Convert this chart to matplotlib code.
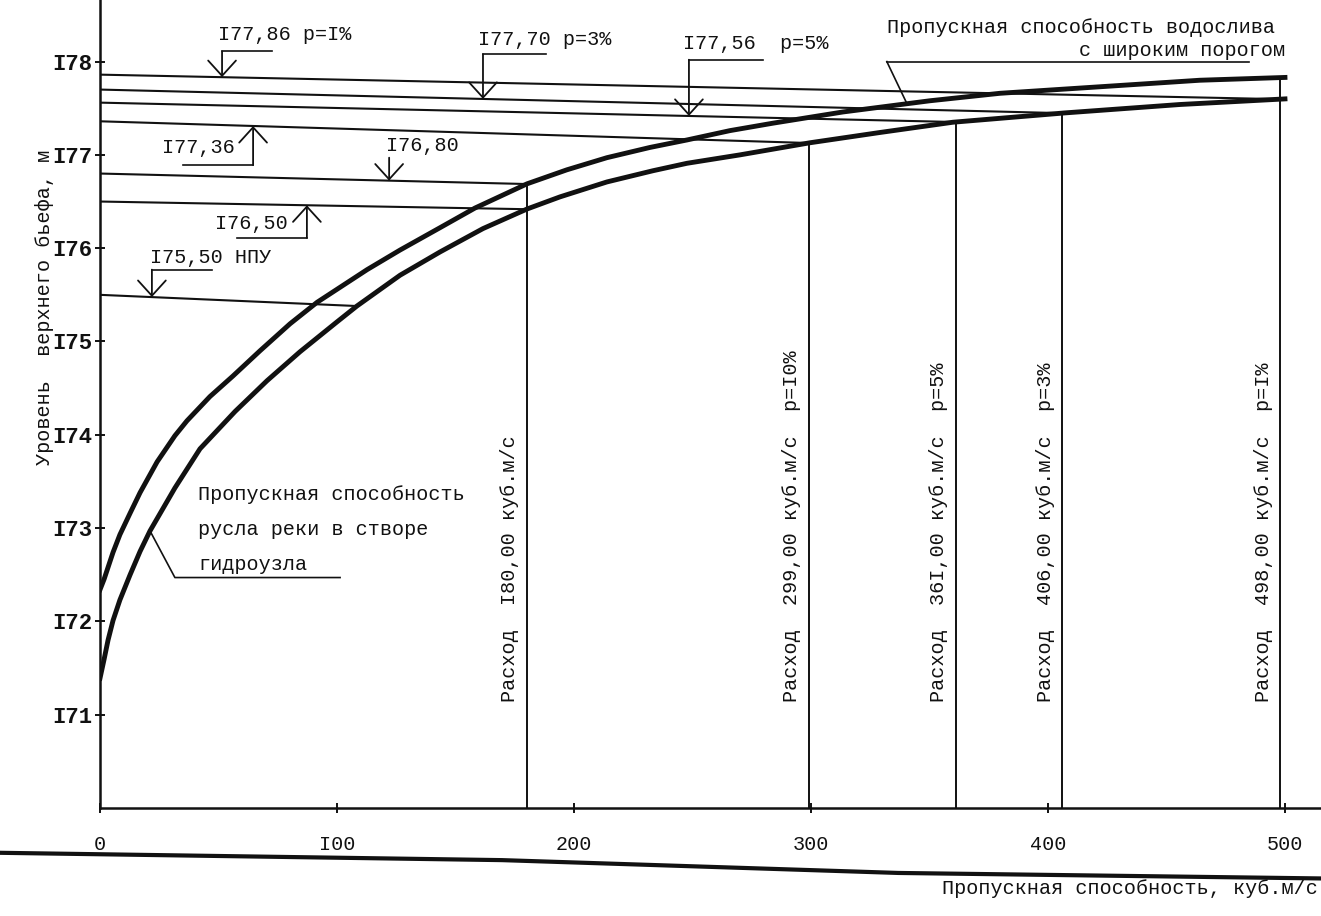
import numpy as np
import matplotlib.pyplot as plt
from matplotlib.lines import Line2D


_STYLE = {
    "font.family":        ["Liberation Mono", "DejaVu Sans Mono"],
    "font.size":          14.5,
    "axes.linewidth":     1.8,
    "xtick.major.width":  1.4,
    "ytick.major.width":  1.4,
    "xtick.major.size":   7,
    "ytick.major.size":   7,
    "xtick.direction":    "inout",
    "ytick.direction":    "inout",
    "axes.spines.top":    False,
    "axes.spines.right":  False,
    "figure.facecolor":   "white",
    "axes.facecolor":     "white",
}

INK = "#111111"

# ----------------------------------------------------------------------
# Values
# ----------------------------------------------------------------------
# rating curve of the broad-crested weir (upper thick line)
weir_q = [0, 1.7, 3.4, 5.5, 8.4, 12.7, 16.9, 24.1, 31.6, 36.7, 46.4, 56.1, 67.5,
          80.2, 91.6, 112.7, 126.6, 143.5, 158.2, 180.2, 197.0, 213.9, 232.1,
          247.7, 265.8, 284.0, 313.5, 350.2, 379.7, 421.9, 464.1, 500]
weir_h = [172.34, 172.45, 172.58, 172.74, 172.93, 173.16, 173.38, 173.71, 173.99,
          174.15, 174.41, 174.63, 174.90, 175.19, 175.42, 175.77, 175.98, 176.22,
          176.43, 176.69, 176.84, 176.97, 177.08, 177.16, 177.26, 177.34, 177.46,
          177.58, 177.66, 177.73, 177.80, 177.83]

# rating curve of the river channel at the dam site (lower thick line)
river_q = [0, 1.7, 3.4, 5.5, 8.4, 12.7, 16.9, 21.1, 31.6, 42.2, 57.0, 70.5, 84.4,
           100.0, 108.4, 126.6, 143.5, 161.6, 180.2, 194.1, 213.9, 233.3, 247.7,
           270.0, 299.6, 329.1, 359.9, 407.2, 455.7, 500]
river_h = [171.39, 171.59, 171.80, 172.01, 172.23, 172.50, 172.75, 172.97, 173.43,
           173.85, 174.25, 174.58, 174.89, 175.21, 175.38, 175.71, 175.96, 176.21,
           176.42, 176.55, 176.71, 176.83, 176.91, 177.00, 177.13, 177.24, 177.35,
           177.45, 177.54, 177.60]

# design discharges (vertical lines)
flow_q     = [180, 299, 361, 406, 498]
flow_text  = ["I80,00", "299,00", "36I,00", "406,00", "498,00"]
flow_prob  = ["", "p=I0%", "p=5%", "p=3%", "p=I%"]
flow_curve = ["weir", "river", "river", "river", "weir"]

# headwater levels (horizontal lines)
level_h     = [177.86, 177.70, 177.56, 177.36, 176.80, 176.50, 175.50]
level_text  = ["I77,86 p=I%", "I77,70 p=3%", "I77,56  p=5%", "I77,36",
               "I76,80", "I76,50", "I75,50 НПУ"]
level_end_q = [498, 406, 361, 299, 180, 180, 108.4]
level_curve = ["river", "river", "river", "river", "weir", "river", "river"]

y_ticks       = [171, 172, 173, 174, 175, 176, 177, 178]
y_tick_labels = ["I71", "I72", "I73", "I74", "I75", "I76", "I77", "I78"]
x_ticks       = [0, 100, 200, 300, 400, 500]
x_tick_labels = ["0", "I00", "200", "300", "400", "500"]

curves = {"weir": (weir_q, weir_h), "river": (river_q, river_h)}


def on_curve(name, q):
    cq, ch = curves[name]
    return float(np.interp(q, cq, ch))


with plt.rc_context(_STYLE):
    fig = plt.figure(figsize=(13.21, 9.16), dpi=100)
    ax = fig.add_axes([100 / 1321, 108 / 916, 1221 / 1321, 808 / 916])
    ax.set_xlim(0, 515.2)
    ax.set_ylim(170, 178.66)

    # thick rating curves
    ax.plot(weir_q, weir_h, color=INK, lw=3.5, solid_joinstyle="round")
    ax.plot(river_q, river_h, color=INK, lw=3.5, solid_joinstyle="round")

    # ------------------------------------------------------------------
    # discharge verticals + rotated captions
    # ------------------------------------------------------------------
    for q, txt, prob, cname in zip(flow_q, flow_text, flow_prob, flow_curve):
        ax.plot([q, q], [170, on_curve(cname, q)], color=INK, lw=1.4)
        label = f"Расход  {txt} куб.м/с"
        if prob:
            label += f"  {prob}"
        ax.annotate(label, xy=(q, 171.14), xytext=(-12, 0),
                    textcoords="offset points", rotation=90,
                    ha="center", va="bottom", color=INK)

    # ------------------------------------------------------------------
    # level lines with arrow leaders
    # ------------------------------------------------------------------
    arrow_q   = [51.5, 161.6, 248.5, 64.6, 122, 87.3, 21.9]
    leader_h  = [178.11, 178.08, 178.02, 176.89, 176.97, 176.11, 175.77]
    under_q   = [72.6, 188.2, 279.7, 35.0, None, 57.8, 47.3]
    text_pos  = [(49.8, 178.29), (159.5, 178.24), (246, 178.19), (26.2, 177.08),
                 (120.7, 177.10), (48.5, 176.26), (21.1, 175.90)]

    for i, lv in enumerate(level_h):
        q_end = level_end_q[i]
        h_end = on_curve(level_curve[i], q_end)
        ax.plot([0, q_end], [lv, h_end], color=INK, lw=1.5)

        qa = arrow_q[i]
        tip = lv + (h_end - lv) * qa / q_end
        ax.annotate("", xy=(qa, tip), xytext=(qa, leader_h[i]),
                    arrowprops=dict(arrowstyle="->,head_length=0.55,head_width=0.5",
                                    color=INK, lw=1.3, shrinkA=0, shrinkB=0,
                                    mutation_scale=20))
        if under_q[i] is not None:
            ax.plot([qa, under_q[i]], [leader_h[i], leader_h[i]], color=INK, lw=1.2)
        tx, ty = text_pos[i]
        ax.text(tx, ty, level_text[i], ha="left", va="center", color=INK)

    # ------------------------------------------------------------------
    # curve captions
    # ------------------------------------------------------------------
    ax.text(332, 178.37, "Пропускная способность водослива",
            ha="left", va="center", color=INK)
    ax.text(500, 178.12, "с широким порогом", ha="right", va="center", color=INK)
    ax.plot([332, 485], [178.0, 178.0], color=INK, lw=1.2)
    ax.plot([332, 340.5], [178.0, on_curve("weir", 340.5)], color=INK, lw=1.2)

    river_caption = ["Пропускная способность", "русла реки в створе", "гидроузла"]
    for line, yy in zip(river_caption, [173.36, 172.98, 172.61]):
        ax.text(41.4, yy, line, ha="left", va="center", color=INK)
    ax.plot([21.1, 31.6, 101.3], [on_curve("river", 21.1), 172.47, 172.47],
            color=INK, lw=1.2)

    # ------------------------------------------------------------------
    # axes cosmetics
    # ------------------------------------------------------------------
    ax.set_yticks(y_ticks)
    ax.set_yticklabels(y_tick_labels, fontweight="bold", fontsize=16)
    ax.set_xticks(x_ticks)
    ax.set_xticklabels(x_tick_labels, fontsize=14.5)
    ax.tick_params(axis="y", pad=2, colors=INK)
    ax.tick_params(axis="x", pad=16, colors=INK)
    for side in ("left", "bottom"):
        ax.spines[side].set_color(INK)

    fig.text(45 / 1321, 1 - 307 / 916, "Уровень  верхнего бьефа, м",
             rotation=90, ha="center", va="center", color=INK)
    fig.text(1318 / 1321, 1 - 888 / 916, "Пропускная способность, куб.м/с",
             ha="right", va="center", color=INK)

    # heavy border stroke along the bottom of the sheet
    fig.add_artist(Line2D([0, 0.38, 0.68, 1.0], [0.069, 0.061, 0.047, 0.041],
                          transform=fig.transFigure, color=INK, lw=3))

    fig.savefig("out.png", dpi=100)
